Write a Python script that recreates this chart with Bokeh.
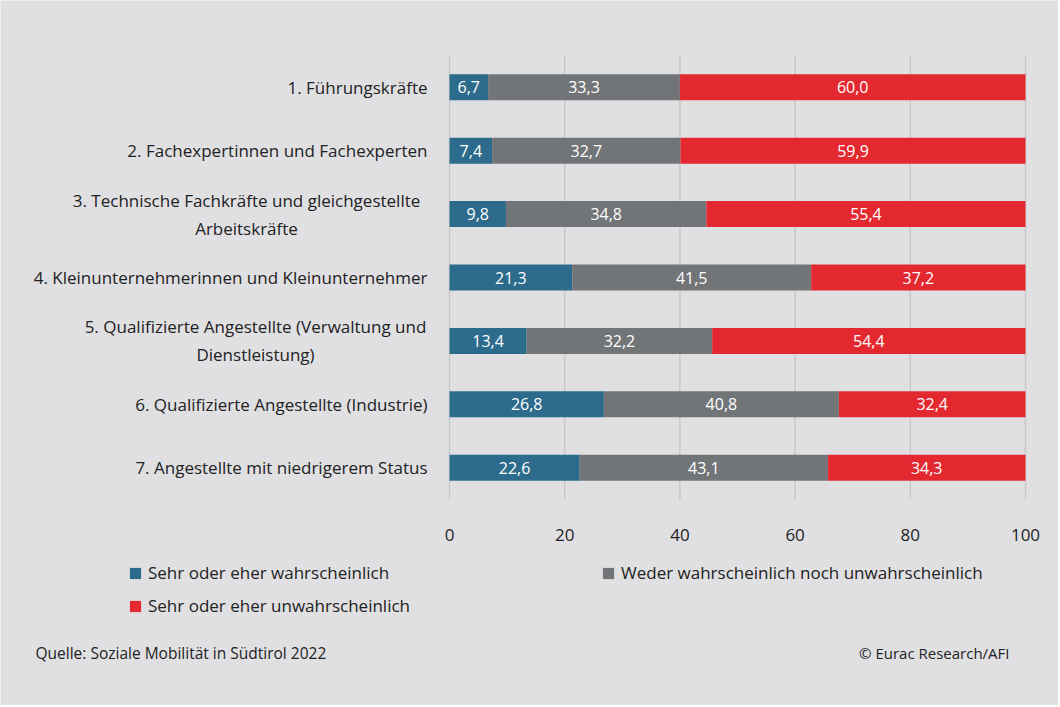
from bokeh.plotting import figure
from bokeh.models import Range1d, Label, Legend, LegendItem, ColumnDataSource
from bokeh.core.properties import value
from bokeh.embed import file_html
from bokeh.resources import INLINE

# ---------------- data ----------------
categories = [
    "1. Führungskräfte",
    "2. Fachexpertinnen und Fachexperten",
    "3. Technische Fachkräfte und gleichgestellte\nArbeitskräfte",
    "4. Kleinunternehmerinnen und Kleinunternehmer",
    "5. Qualifizierte Angestellte (Verwaltung und\nDienstleistung)",
    "6. Qualifizierte Angestellte (Industrie)",
    "7. Angestellte mit niedrigerem Status",
]
likely = [6.7, 7.4, 9.8, 21.3, 13.4, 26.8, 22.6]
neutral = [33.3, 32.7, 34.8, 41.5, 32.2, 40.8, 43.1]
unlikely = [60.0, 59.9, 55.4, 37.2, 54.4, 32.4, 34.3]
series_names = [
    "Sehr oder eher wahrscheinlich",
    "Weder wahrscheinlich noch unwahrscheinlich",
    "Sehr oder eher unwahrscheinlich",
]
x_ticks = [0, 20, 40, 60, 80, 100]
source_text = "Quelle: Soziale Mobilität in Südtirol 2022"
copyright_text = "© Eurac Research/AFI"

# ---------------- layout / style ----------------
FONT = "Open Sans"
BG = "#e0e0e2"
COLORS = ["#2c6b8b", "#727577", "#e3282f"]
TEXT = "#222222"
W, H = 1058, 705
# pixel geometry (figure coordinates)
X0_PX, X100_PX = 449, 1025       # value 0 and 100
TOP_PX, BOT_PX = 55, 499         # top / bottom of the category bands
n = len(categories)
ppu_x = (X100_PX - X0_PX) / 100.0
ppu_y = (BOT_PX - TOP_PX) / n


def xd(px):
    return (px - X0_PX) / ppu_x


def yd(px):
    return -0.5 + (px - TOP_PX) / ppu_y


p = figure(
    width=W, height=H,
    x_range=Range1d(xd(0), xd(W)), y_range=Range1d(yd(H), yd(0)),
    output_backend="svg", toolbar_location=None,
    background_fill_color=BG, border_fill_color=BG,
    min_border=0,
)
p.outline_line_color = None
p.xaxis.visible = False
p.yaxis.visible = False
p.xgrid.visible = False
p.ygrid.visible = False

# grid lines for the value ticks
p.segment(x0=x_ticks, x1=x_ticks, y0=[-0.5] * len(x_ticks), y1=[n - 0.5] * len(x_ticks),
          line_color="#c8c8ca", line_width=1.5)
# tick labels
p.text(x=x_ticks, y=[yd(534)] * len(x_ticks), text=[str(t) for t in x_ticks],
       text_align="center", text_baseline="middle", text_color=TEXT,
       text_font=value(FONT), text_font_size="17px")

ys = list(range(n))
series = [likely, neutral, unlikely]
left = [0.0] * n
renderers = []
for vals, col in zip(series, COLORS):
    right = [l + v for l, v in zip(left, vals)]
    src = ColumnDataSource(dict(
        y=ys, left=left, right=right,
        xc=[(l + r) / 2 for l, r in zip(left, right)],
        lab=[f"{v:.1f}".replace(".", ",") for v in vals],
    ))
    r = p.hbar(y="y", left="left", right="right", height=0.41, source=src,
               fill_color=col, line_color=None)
    p.text(x="xc", y="y", text="lab", source=src, text_align="center",
           text_baseline="middle", text_color="white",
           text_font=value(FONT), text_font_size="16px")
    renderers.append(r)
    left = right

# category labels
LABEL_RIGHT = xd(427)
MULTI_CENTER = {2: xd(246), 4: xd(255)}
LINE_OFF = 14 / ppu_y
for i, cat in enumerate(categories):
    lines = cat.split("\n")
    if len(lines) == 1:
        p.add_layout(Label(x=LABEL_RIGHT, y=i, text=cat, text_align="right",
                           text_baseline="middle", text_font=FONT,
                           text_font_size="17px", text_color=TEXT))
    else:
        for k, ln in enumerate(lines):
            off = (k - (len(lines) - 1) / 2) * 2 * LINE_OFF
            p.add_layout(Label(x=MULTI_CENTER[i], y=i + off, text=ln,
                               text_align="center", text_baseline="middle",
                               text_font=FONT, text_font_size="17px",
                               text_color=TEXT))

# legend (location: screen px from bottom-left of the frame)
legend_pos = [(128, H - 584), (601, H - 584), (128, H - 617)]
for r, name, loc in zip(renderers, series_names, legend_pos):
    lg = Legend(items=[LegendItem(label=name, renderers=[r])], location=loc,
                glyph_width=14, glyph_height=14, label_standoff=6,
                padding=0, margin=0, spacing=0, label_height=14,
                background_fill_alpha=0, border_line_color=None,
                label_text_font=FONT, label_text_font_size="17px",
                label_text_color=TEXT)
    p.add_layout(lg, "center")

# footer
p.add_layout(Label(x=xd(35), y=yd(652), text=source_text, text_align="left",
                   text_baseline="middle", text_font=FONT,
                   text_font_size="15.5px", text_color=TEXT))
p.add_layout(Label(x=xd(1009), y=yd(652), text=copyright_text, text_align="right",
                   text_baseline="middle", text_font=FONT,
                   text_font_size="15px", text_color=TEXT))

open("out.html", "w").write(file_html(p, INLINE))
